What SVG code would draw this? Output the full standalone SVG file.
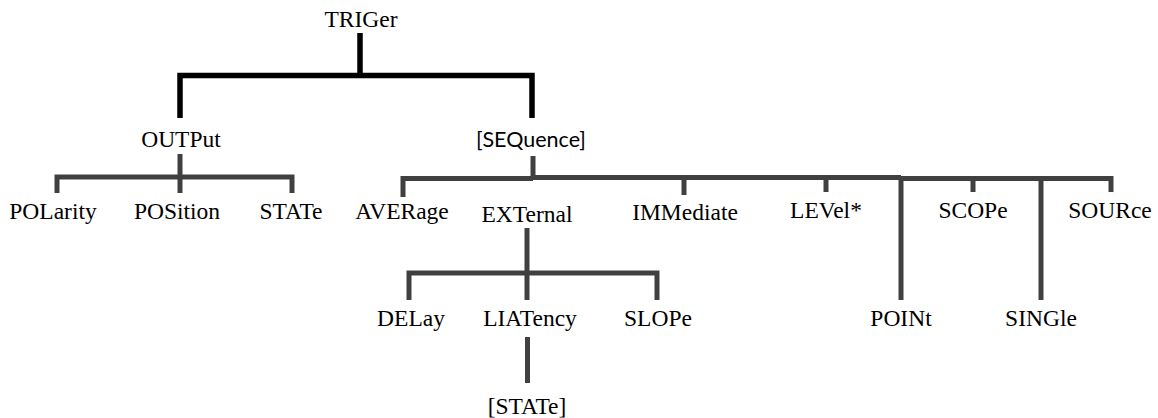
<svg xmlns="http://www.w3.org/2000/svg" width="1158" height="418" viewBox="0 0 1158 418">
<style>
.t{font-family:"Liberation Serif","Times New Roman",serif;font-size:23.5px;fill:#000;text-anchor:middle}
.s{font-family:Lato,"Open Sans",sans-serif;font-size:21.5px;fill:#000;text-anchor:middle}
.k{fill:none;stroke:#000;stroke-width:5.5}
.g{fill:none;stroke:#404040;stroke-width:5}
</style>
<rect width="1158" height="418" fill="#fff"/>
<g id="connectors">
<path class="k" d="M360,33 V75.5 M180,118 V75.5 H532 V118"/>
<path class="g" d="M180,154 V193 M57,193 V177 H292 V193"/>
<path class="g" stroke-width="4" d="M403,197 V178.5 H533"/>
<path class="g" stroke-width="6" d="M533,156 V177.5 H901"/>
<path class="g" stroke-width="4.5" d="M901,178.5 H1111 V192"/>
<path class="g" d="M684,178 V195 M826,178 V192 M901,178 V300 M973,178 V192 M1041,178 V300"/>
<path class="g" d="M527,228 V300 M409,300 V273 H657 V300"/>
<path class="g" stroke-width="5.5" d="M527.5,337 V383"/>
</g>
<g id="n-triger"><text class="t" x="361" y="26.5">TRIGer</text></g>
<g id="n-output"><text class="t" x="181" y="146.5">OUTPut</text></g>
<g id="n-sequence"><text class="s" x="531" y="146.5">[SEQuence]</text></g>
<g id="n-polarity"><text class="t" x="53" y="219">POLarity</text></g>
<g id="n-position"><text class="t" x="177" y="219">POSition</text></g>
<g id="n-state"><text class="t" x="291" y="219">STATe</text></g>
<g id="n-average"><text class="t" x="402" y="219">AVERage</text></g>
<g id="n-external"><text class="t" x="527" y="221.5">EXTernal</text></g>
<g id="n-immediate"><text class="t" x="685" y="219.5">IMMediate</text></g>
<g id="n-level"><text class="t" x="826" y="217.5">LEVel*</text></g>
<g id="n-scope"><text class="t" x="973" y="217.5">SCOPe</text></g>
<g id="n-source"><text class="t" x="1110" y="217.5">SOURce</text></g>
<g id="n-delay"><text class="t" x="411" y="325.5">DELay</text></g>
<g id="n-liatency"><text class="t" x="530" y="325.5">LIATency</text></g>
<g id="n-slope"><text class="t" x="658" y="325.5">SLOPe</text></g>
<g id="n-point"><text class="t" x="901" y="325.5">POINt</text></g>
<g id="n-single"><text class="t" x="1041" y="325.5">SINGle</text></g>
<g id="n-state2"><text class="t" x="527" y="414">[STATe]</text></g>
</svg>
